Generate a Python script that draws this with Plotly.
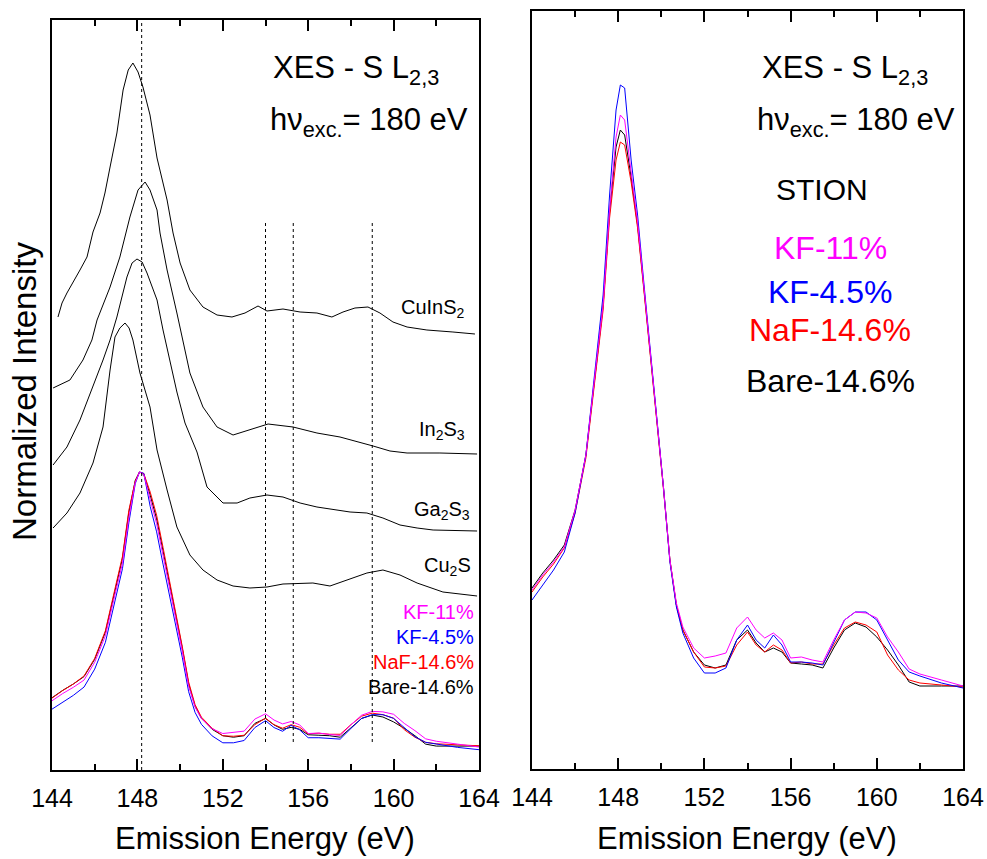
import plotly.graph_objects as go

# ---------------- reference compounds (left panel, stacked, arb. units) ----------------
cuins2_e = [144.28, 144.47, 144.70, 144.98, 145.31, 145.64, 145.92, 146.25, 146.48, 146.72,
            147.04, 147.33, 147.57, 147.79, 148.03, 148.26, 148.59, 148.92, 149.39, 149.67,
            150.00, 150.46, 151.07, 151.73, 152.43, 153.04, 153.65, 154.07, 154.82, 155.62,
            156.41, 157.11, 157.63, 158.19, 158.80, 159.36, 159.97, 160.63, 161.56, 162.78, 163.81]
cuins2_i = [453, 467, 477, 487, 500, 513, 538, 557, 577, 603,
            637, 680, 700, 707, 698, 683, 655, 612, 570, 537,
            507, 480, 463, 455, 453, 457, 464, 459, 461, 458,
            457, 453, 458, 462, 463, 457, 448, 443, 440, 438, 436]

in2s3_e = [144.05, 144.84, 145.45, 145.87, 146.11, 146.72, 147.18, 147.65, 148.03, 148.36,
           148.59, 148.92, 149.06, 149.39, 149.85, 150.14, 150.46, 151.07, 151.73, 152.48,
           153.41, 154.12, 155.29, 156.41, 157.49, 158.43, 159.04, 159.83, 160.63, 162.17, 163.91]
in2s3_i = [382, 390, 410, 430, 450, 483, 513, 553, 580, 588,
           580, 560, 537, 500, 457, 430, 397, 363, 343, 335,
           341, 346, 343, 337, 333, 328, 324, 319, 317, 317, 316]

ga2s3_e = [144.05, 144.70, 145.31, 145.92, 146.39, 146.72, 147.04, 147.51, 147.75, 147.98,
           148.22, 148.45, 148.92, 149.20, 149.53, 149.85, 150.23, 150.79, 151.26, 152.01,
           152.67, 153.27, 154.07, 154.82, 155.62, 156.41, 157.96, 158.75, 159.50, 160.30,
           161.10, 161.85, 163.91]
ga2s3_i = [305, 323, 350, 383, 410, 430, 453, 493, 507, 511,
           508, 497, 470, 440, 408, 378, 347, 318, 283, 267,
           267, 272, 275, 273, 267, 263, 258, 257, 252, 245,
           242, 240, 239]

cu2s_e = [144.05, 144.70, 145.31, 145.92, 146.39, 146.53, 146.72, 146.95, 147.18, 147.42,
          147.61, 147.79, 148.12, 148.59, 148.92, 149.39, 149.85, 150.46, 151.07, 151.73,
          152.48, 153.27, 154.07, 154.82, 156.22, 157.02, 157.82, 158.75, 159.50, 160.30,
          161.10, 162.31, 163.91]
cu2s_i = [242, 257, 277, 307, 343, 370, 400, 433, 442, 447,
          442, 430, 397, 363, 320, 280, 243, 215, 200, 190,
          184, 182, 183, 186, 187, 184, 190, 197, 200, 195,
          187, 178, 174]

# ---------------- STION absorber samples (arb. units) ----------------
sample_e = [144.0, 144.5, 145.0, 145.5, 146.0, 146.5, 147.0, 147.3, 147.6, 147.9,
            148.1, 148.3, 148.6, 148.9, 149.2, 149.5, 149.8, 150.1, 150.4, 150.7,
            151.0, 151.5, 152.0, 152.5, 153.0, 153.5, 154.0, 154.4, 154.8, 155.2,
            155.6, 156.0, 156.5, 157.0, 157.5, 158.0, 158.5, 159.0, 159.5, 160.0,
            160.5, 161.0, 161.5, 162.0, 163.0, 164.0]
bare_i = [181, 196, 209, 224, 259, 314, 407, 464, 557, 622,
          639, 634, 592, 544, 479, 414, 349, 282, 209, 164,
          139, 117, 104, 101, 104, 129, 139, 126, 117, 121,
          117, 106, 105, 104, 101, 121, 139, 146, 142, 132,
          119, 104, 87, 83, 83, 83]
naf_i = [177, 192, 205, 221, 256, 311, 404, 459, 551, 609,
         627, 624, 587, 541, 477, 412, 347, 280, 209, 164,
         139, 117, 102, 101, 103, 124, 137, 124, 117, 124,
         119, 106, 107, 105, 105, 124, 141, 147, 144, 137,
         114, 99, 89, 86, 84, 82]
kf45_i = [169, 184, 199, 217, 256, 314, 414, 474, 574, 659,
          684, 681, 609, 554, 484, 417, 351, 282, 207, 162,
          136, 111, 96, 96, 101, 129, 144, 129, 121, 134,
          124, 107, 107, 106, 104, 127, 149, 157, 157, 149,
          129, 109, 97, 93, 86, 81]
kf11_i = [179, 194, 207, 222, 259, 314, 409, 464, 559, 632,
          654, 649, 597, 547, 481, 416, 349, 282, 209, 166,
          142, 121, 111, 113, 116, 141, 152, 139, 131, 136,
          129, 111, 112, 109, 107, 129, 149, 157, 156, 151,
          132, 117, 100, 95, 89, 83]

sample_names = ["Bare-14.6%", "NaF-14.6%", "KF-4.5%", "KF-11%"]
sample_data = [bare_i, naf_i, kf45_i, kf11_i]
sample_colors = ["#000000", "#FF0000", "#0000FF", "#FF00FF"]

# peak-normalised copies in the stacked panel
NORM_SCALE = 315
NORM_SHIFT = -17

# reference peak positions (eV) marked with dotted lines
main_peak = 148.2
feature_peaks = [154.0, 155.3, 159.0]

W, H = 987, 859
FONT = "Liberation Sans, Arial, sans-serif"


def px(x):
    return x / W


def py(y):
    return 1 - y / H


fig = go.Figure()

for e, i in [(cuins2_e, cuins2_i), (in2s3_e, in2s3_i), (ga2s3_e, ga2s3_i), (cu2s_e, cu2s_i)]:
    fig.add_trace(go.Scatter(x=e, y=i, mode="lines", line=dict(color="black", width=1),
                             xaxis="x", yaxis="y", showlegend=False, hoverinfo="skip"))

for name, data, col in zip(sample_names, sample_data, sample_colors):
    peak = max(data)
    norm = [NORM_SCALE * v / peak + NORM_SHIFT for v in data]
    fig.add_trace(go.Scatter(x=sample_e, y=norm, mode="lines", line=dict(color=col, width=1),
                             xaxis="x", yaxis="y", name=name, showlegend=False))
    fig.add_trace(go.Scatter(x=sample_e, y=data, mode="lines", line=dict(color=col, width=1),
                             xaxis="x2", yaxis="y2", name=name, showlegend=False))

xaxis_style = dict(
    range=[144, 164], tick0=144, dtick=4, ticks="inside", ticklen=11, tickwidth=2,
    tickcolor="black", showline=True, linecolor="black", linewidth=2, mirror="allticks",
    showgrid=False, zeroline=False, tickfont=dict(family=FONT, size=25, color="black"),
    ticklabelstandoff=5, automargin=False,
    minor=dict(dtick=2, ticks="inside", ticklen=6, tickwidth=2, tickcolor="black"),
)
yaxis_style = dict(showline=True, linecolor="black", linewidth=2, mirror=True,
                   showticklabels=False, ticks="", showgrid=False, zeroline=False,
                   automargin=False)

fig.update_layout(
    width=W, height=H, margin=dict(l=0, r=0, t=0, b=0, autoexpand=False),
    paper_bgcolor="white", plot_bgcolor="white",
    xaxis=dict(domain=[px(52), px(479)], anchor="y", **xaxis_style),
    yaxis=dict(domain=[py(770), py(20)], anchor="x", range=[0, 750], **yaxis_style),
    xaxis2=dict(domain=[px(532), px(963)], anchor="y2", **xaxis_style),
    yaxis2=dict(domain=[py(769), py(11)], anchor="x2", range=[0, 758], **yaxis_style),
)

# dotted guide lines
fig.add_shape(type="line", xref="x", yref="y", x0=main_peak, x1=main_peak, y0=0, y1=750,
              line=dict(color="black", width=1, dash="dot"))
for e in feature_peaks:
    fig.add_shape(type="line", xref="x", yref="y", x0=e, x1=e, y0=28, y1=548,
                  line=dict(color="black", width=1, dash="dot"))


def text(x, y, s, size, color="black", xanchor="left", yanchor="middle", angle=0):
    fig.add_annotation(x=px(x), y=py(y), xref="paper", yref="paper", text=s, showarrow=False,
                       xanchor=xanchor, yanchor=yanchor, textangle=angle,
                       font=dict(family=FONT, size=size, color=color))


# panel headers
for x0, x1 in [(271, 268), (760, 755)]:
    text(x0, 70, "XES - S L<sub>2,3</sub>", 31)
    text(x1, 122, "h\u03bd<sub>exc.</sub>= 180 eV", 31)

# compound labels
text(467, 308, "CuInS<sub>2</sub>", 20, xanchor="right")
text(467, 430, "In<sub>2</sub>S<sub>3</sub>", 20, xanchor="right")
text(472, 510, "Ga<sub>2</sub>S<sub>3</sub>", 20, xanchor="right")
text(473, 566, "Cu<sub>2</sub>S", 20, xanchor="right")

# sample labels, stacked panel
for name, col, y in zip(sample_names[::-1], sample_colors[::-1], [612, 637, 662, 687]):
    text(476, y, name, 20, color=col, xanchor="right")

# sample labels, overlay panel
text(822, 190, "STION", 30, xanchor="center")
for name, col, y in zip(sample_names[::-1], sample_colors[::-1], [248, 292, 330, 381]):
    text(830, y, name, 32, color=col, xanchor="center")

# axis titles
text(265, 838, "Emission Energy (eV)", 31, xanchor="center")
text(747, 838, "Emission Energy (eV)", 31, xanchor="center")
text(25, 392, "Normalized Intensity", 33, xanchor="center", angle=-90)

fig.write_html("out.html")
